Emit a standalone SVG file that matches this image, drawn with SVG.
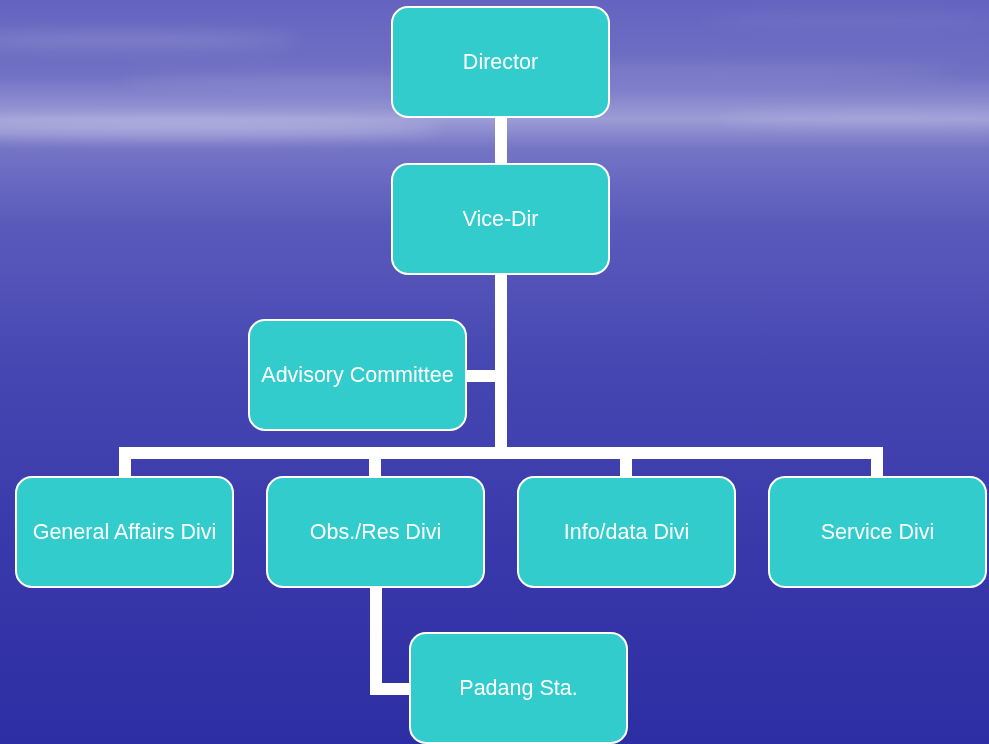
<svg xmlns="http://www.w3.org/2000/svg" width="989" height="744" viewBox="0 0 989 744">
<defs>
<linearGradient id="bg" x1="0" y1="0" x2="0" y2="1">
<stop offset="0" stop-color="#6464c0"/>
<stop offset="0.1" stop-color="#7070c4"/>
<stop offset="0.16" stop-color="#9c9cd6"/>
<stop offset="0.2" stop-color="#7474c6"/>
<stop offset="0.3" stop-color="#5a5abc"/>
<stop offset="0.5" stop-color="#4646b2"/>
<stop offset="0.75" stop-color="#3838aa"/>
<stop offset="1" stop-color="#2e2ea4"/>
</linearGradient>
<filter id="blur" x="-20%" y="-200%" width="140%" height="500%"><feGaussianBlur stdDeviation="8"/></filter>
<style>
.node rect{fill:#33cccc;stroke:#ffffff;stroke-width:2}
.node text{font-family:"Liberation Sans",Arial,sans-serif;font-size:21.5px;fill:#ffffff;text-anchor:middle;dominant-baseline:central}
.conn path{fill:none;stroke:#ffffff;stroke-width:12;stroke-linejoin:miter}
</style>
</defs>
<rect width="989" height="744" fill="url(#bg)"/>
<g filter="url(#blur)" fill="#ffffff">
<ellipse cx="120" cy="40" rx="180" ry="8" opacity="0.15"/>
<ellipse cx="320" cy="80" rx="200" ry="6" opacity="0.12"/>
<ellipse cx="720" cy="72" rx="240" ry="7" opacity="0.12"/>
<ellipse cx="880" cy="118" rx="160" ry="6" opacity="0.15"/>
<ellipse cx="180" cy="128" rx="260" ry="10" opacity="0.25"/>
<ellipse cx="850" cy="20" rx="150" ry="5" opacity="0.08"/>
</g>
<g class="conn" id="connectors">
<path d="M501 117 V164"/>
<path d="M501 274 V453"/>
<path d="M466 376 H501"/>
<path d="M125 477 V453 H877 V477"/>
<path d="M375 453 V477"/>
<path d="M626 453 V477"/>
<path d="M376 587 V689 H410"/>
</g>
<g class="node" id="director"><rect x="392" y="7" width="217" height="110" rx="16"/><text x="500.5" y="62">Director</text></g>
<g class="node" id="vice-dir"><rect x="392" y="164" width="217" height="110" rx="16"/><text x="500.5" y="219">Vice-Dir</text></g>
<g class="node" id="advisory"><rect x="249" y="320" width="217" height="110" rx="16"/><text x="357.5" y="375">Advisory Committee</text></g>
<g class="node" id="general"><rect x="16" y="477" width="217" height="110" rx="16"/><text x="124.5" y="532">General Affairs Divi</text></g>
<g class="node" id="obs"><rect x="267" y="477" width="217" height="110" rx="16"/><text x="375.5" y="532">Obs./Res Divi</text></g>
<g class="node" id="info"><rect x="518" y="477" width="217" height="110" rx="16"/><text x="626.5" y="532">Info/data Divi</text></g>
<g class="node" id="service"><rect x="769" y="477" width="217" height="110" rx="16"/><text x="877.5" y="532">Service Divi</text></g>
<g class="node" id="padang"><rect x="410" y="633" width="217" height="110" rx="16"/><text x="518.5" y="688">Padang Sta.</text></g>
</svg>
